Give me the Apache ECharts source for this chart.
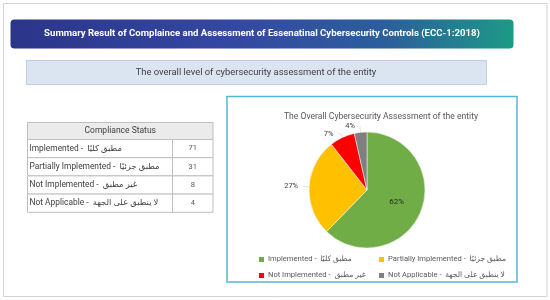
<!DOCTYPE html>
<html>
<head>
<meta charset="utf-8">
<script src="https://cdn.jsdelivr.net/npm/echarts@6/dist/echarts.min.js"></script>
<style>html,body{margin:0;padding:0;background:#fff;}#c{width:550px;height:300px;}</style>
</head>
<body>
<div id="c"></div>
<script>
const headerTitle = 'Summary Result of Complaince and Assessment of Essenatinal Cybersecurity Controls (ECC-1:2018)';
const subTitle = 'The overall level of cybersecurity assessment of the entity';
const tableTitle = 'Compliance Status';
const pieTitle = 'The Overall Cybersecurity Assessment of the entity';
const categoriesEn = ['Implemented', 'Partially Implemented', 'Not Implemented', 'Not Applicable'];
const categoriesAr = ['مطبق كليًا', 'مطبق جزئيًا', 'غير مطبق', 'لا ينطبق على الجهة'];
const counts = [71, 31, 8, 4];
const colors = ['#70ad47', '#ffc000', '#ff0000', '#7f7f7f'];

const FONT = 'Roboto, "DejaVu Sans", sans-serif';
const names = categoriesEn.map((e, i) => e + ' -  ' + categoriesAr[i]);

const chart = echarts.init(document.getElementById('c'), null, {renderer: 'canvas'});

const graphics = [];
// outer frame
graphics.push({type: 'rect', shape: {x: 3.5, y: 3.5, width: 543.5, height: 293}, style: {fill: '#fff', stroke: '#d3d3d3', lineWidth: 1}, z: -10});
// header bar
graphics.push({type: 'rect', shape: {x: 10.5, y: 19.5, width: 503, height: 29, r: 4},
  style: {fill: new echarts.graphic.LinearGradient(0, 0, 1, 0, [
    {offset: 0, color: '#2b3589'}, {offset: 0.45, color: '#3548a2'}, {offset: 0.75, color: '#2b5f9c'}, {offset: 1, color: '#1c9a86'}])}, z: 1});
graphics.push({type: 'text', x: 262, y: 34, style: {text: headerTitle, fill: '#fff', font: 'bold 9.6px ' + FONT, textAlign: 'center', textVerticalAlign: 'middle'}, z: 2});
// subtitle box
graphics.push({type: 'rect', shape: {x: 26.5, y: 60.5, width: 460, height: 24}, style: {fill: '#dbe5f1', stroke: '#c5cfdb', lineWidth: 1}, z: 1});
graphics.push({type: 'text', x: 256, y: 72.5, style: {text: subTitle, fill: '#404040', font: '9.4px ' + FONT, textAlign: 'center', textVerticalAlign: 'middle'}, z: 2});

// table
const tx = 27.5, tw = 185.5, vx = 172.5, ty = 122.5, hh = 17, rh = 18.2;
graphics.push({type: 'rect', shape: {x: tx, y: ty, width: tw, height: hh}, style: {fill: '#ebebeb', stroke: '#bfbfbf', lineWidth: 1}, z: 1});
graphics.push({type: 'text', x: tx + tw / 2, y: ty + hh / 2, style: {text: tableTitle, fill: '#404040', font: '8.5px ' + FONT, textAlign: 'center', textVerticalAlign: 'middle'}, z: 2});
categoriesEn.forEach((c, i) => {
  const y = ty + hh + i * rh;
  graphics.push({type: 'rect', shape: {x: tx, y: y, width: vx - tx, height: rh}, style: {fill: '#fff', stroke: '#bfbfbf', lineWidth: 1}, z: 1});
  graphics.push({type: 'rect', shape: {x: vx, y: y, width: tx + tw - vx, height: rh}, style: {fill: '#fff', stroke: '#bfbfbf', lineWidth: 1}, z: 1});
  graphics.push({type: 'text', x: tx + 2, y: y + rh / 2, style: {text: names[i], fill: '#404040', font: '8.4px ' + FONT, textAlign: 'left', textVerticalAlign: 'middle'}, z: 2});
  graphics.push({type: 'text', x: (vx + tx + tw) / 2, y: y + rh / 2, style: {text: String(counts[i]), fill: '#595959', font: '7.5px ' + FONT, textAlign: 'center', textVerticalAlign: 'middle'}, z: 2});
});

// pie box
graphics.push({type: 'rect', shape: {x: 227, y: 96.5, width: 290, height: 185.5}, style: {fill: '#fff', stroke: '#55b6d3', lineWidth: 1.5}, z: 0});

const legendText = {fontFamily: FONT, fontSize: 7.6, color: '#595959', padding: [0, 0, 0, -2]};

chart.setOption({
  animation: false,
  backgroundColor: '#fff',
  color: colors,
  graphic: {elements: graphics},
  title: {
    text: pieTitle, left: 376, top: 107, textAlign: 'center',
    textStyle: {fontFamily: FONT, fontSize: 8.6, fontWeight: 'normal', color: '#595959'}
  },
  legend: [
    {data: [names[0], names[2]], orient: 'vertical', left: 252, top: 250, itemWidth: 7, itemHeight: 7, itemGap: 7, icon: 'rect', textStyle: legendText},
    {data: [names[1], names[3]], orient: 'vertical', left: 372, top: 250, itemWidth: 7, itemHeight: 7, itemGap: 7, icon: 'rect', textStyle: legendText}
  ],
  series: [{
    type: 'pie',
    center: [367, 190],
    radius: 58,
    startAngle: 90,
    clockwise: true,
    avoidLabelOverlap: false,
    itemStyle: {borderColor: '#fff', borderWidth: 0.5},
    label: {formatter: '{d}%', fontFamily: FONT, fontSize: 7.5, color: '#404040', position: 'outside'},
    labelLine: {length: 4, length2: 2, lineStyle: {color: '#d0d0d0', width: 0.6}},
    percentPrecision: 0,
    data: names.map((n, i) => {
      const d = {name: n, value: counts[i]};
      if (i === 0) d.label = {position: 'inside', color: '#262626', fontSize: 8};
      if (i === 3) d.labelLine = {length: 6, length2: 0};
      return d;
    })
  }]
});
</script>
</body>
</html>
